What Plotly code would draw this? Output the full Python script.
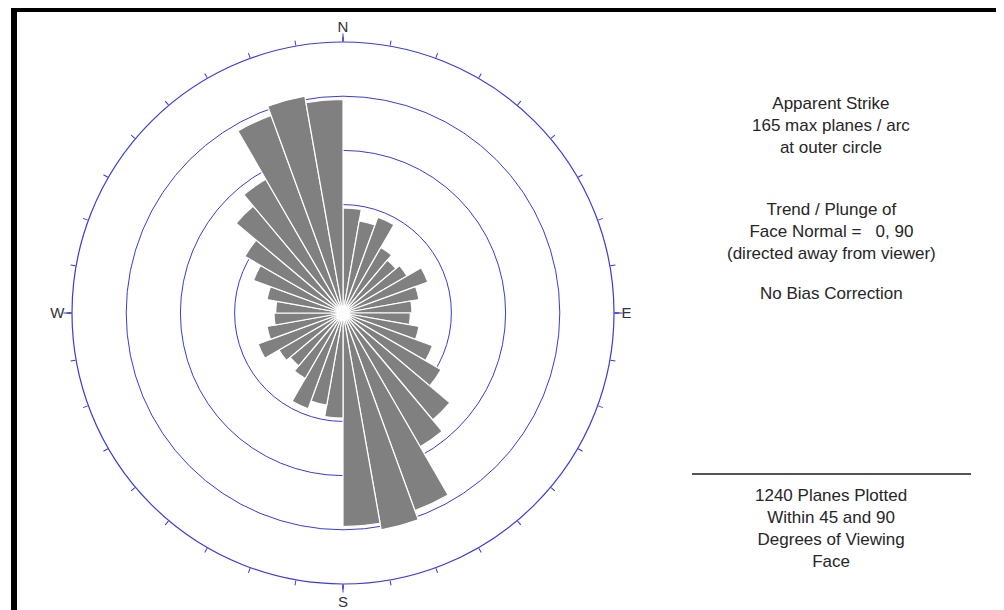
import plotly.graph_objects as go

# Apparent strike counts per 10-degree bin, 0-180 (bidirectional: repeated for 180-360)
bin_starts = list(range(0, 180, 10))
strike_counts = [64, 57, 62, 46, 42, 45, 55, 47, 42, 41, 47, 58, 69, 85, 94, 128, 134, 130]
max_planes = 165
ring_values = [66, 99, 132]
cardinal_angles = [0, 90, 180, 270]
cardinal_labels = ["N", "E", "S", "W"]
minor_tick_angles = list(range(0, 360, 10))

theta = [b + 5 for b in bin_starts] + [b + 185 for b in bin_starts]
r = strike_counts + strike_counts

blue = "#3a3ad8"
txt = "#262626"
font_family = "Liberation Sans, Arial, sans-serif"

fig = go.Figure()
fig.add_trace(go.Barpolar(
    r=r, theta=theta, width=[10] * len(theta),
    marker=dict(color="#808080", line=dict(color="white", width=1.2)),
    subplot="polar", hoverinfo="skip", showlegend=False,
))
for sp in ("polar2", "polar3"):
    fig.add_trace(go.Scatterpolar(r=[0], theta=[0], mode="markers",
                                  marker=dict(size=0.1, color="rgba(0,0,0,0)"),
                                  subplot=sp, hoverinfo="skip", showlegend=False))

# the page body adds an 8px offset; positions below are in figure pixels
off = 8
cx, cy, rad = 343 - off, 313 - off, 271
W, H = 1004, 610
dom_x = [(cx - rad) / W, (cx + rad) / W]
dom_y = [(H - cy - rad) / H, (H - cy + rad) / H]

fig.update_layout(
    width=W, height=H,
    margin=dict(l=0, r=0, t=0, b=0),
    paper_bgcolor="white",
    font=dict(family=font_family, color=txt),
    polar=dict(
        domain=dict(x=dom_x, y=dom_y),
        bgcolor="rgba(0,0,0,0)",
        radialaxis=dict(range=[0, max_planes], tickmode="array", tickvals=ring_values,
                        showticklabels=False, ticks="", showline=False,
                        gridcolor=blue, gridwidth=1),
        angularaxis=dict(direction="clockwise", rotation=90, showgrid=False,
                         showline=True, linecolor=blue, linewidth=1.2,
                         tickmode="array", tickvals=minor_tick_angles,
                         ticks="outside", ticklen=5, tickcolor=blue, tickwidth=1,
                         showticklabels=False),
    ),
    polar2=dict(
        domain=dict(x=dom_x, y=dom_y),
        bgcolor="rgba(0,0,0,0)",
        radialaxis=dict(range=[0, max_planes], visible=False),
        angularaxis=dict(direction="clockwise", rotation=90, showgrid=False,
                         showline=False, tickmode="array", tickvals=cardinal_angles,
                         ticktext=cardinal_labels, ticks="outside", ticklen=4,
                         tickcolor=blue, tickwidth=1,
                         tickfont=dict(size=15, color="#333333", family=font_family)),
    ),
    polar3=dict(
        domain=dict(x=dom_x, y=dom_y),
        bgcolor="rgba(0,0,0,0)",
        radialaxis=dict(range=[0, max_planes], visible=False),
        angularaxis=dict(direction="clockwise", rotation=90, showgrid=False,
                         showline=False, tickmode="array", tickvals=cardinal_angles,
                         showticklabels=False, ticks="outside", ticklen=8,
                         tickcolor=blue, tickwidth=1),
    ),
)

xc = (831 - off) / W
def py(y):
    return 1 - (y - off) / H

blocks = [
    ("Apparent Strike<br>165 max planes / arc<br>at outer circle", 125.5),
    ("Trend / Plunge of<br>Face Normal =   0, 90<br>(directed away from viewer)", 231),
    ("No Bias Correction", 293),
    ("1240 Planes Plotted<br>Within 45 and 90<br>Degrees of Viewing<br>Face", 528),
]
for text, y in blocks:
    fig.add_annotation(x=xc, y=py(y), xref="paper", yref="paper", text=text,
                       showarrow=False, xanchor="center", yanchor="middle",
                       align="center", font=dict(size=17, color=txt, family=font_family))

fig.add_shape(type="line", xref="paper", yref="paper",
              x0=(692 - off) / W, x1=(971 - off) / W, y0=py(474), y1=py(474),
              line=dict(color="#555555", width=2))
# frame border
fig.add_shape(type="rect", xref="paper", yref="paper",
              x0=(11 - off) / W, x1=1, y0=py(12), y1=1,
              fillcolor="black", line=dict(width=0))
fig.add_shape(type="rect", xref="paper", yref="paper",
              x0=(11 - off) / W, x1=(17 - off) / W, y0=0, y1=1,
              fillcolor="black", line=dict(width=0))

fig.write_html("out.html")
